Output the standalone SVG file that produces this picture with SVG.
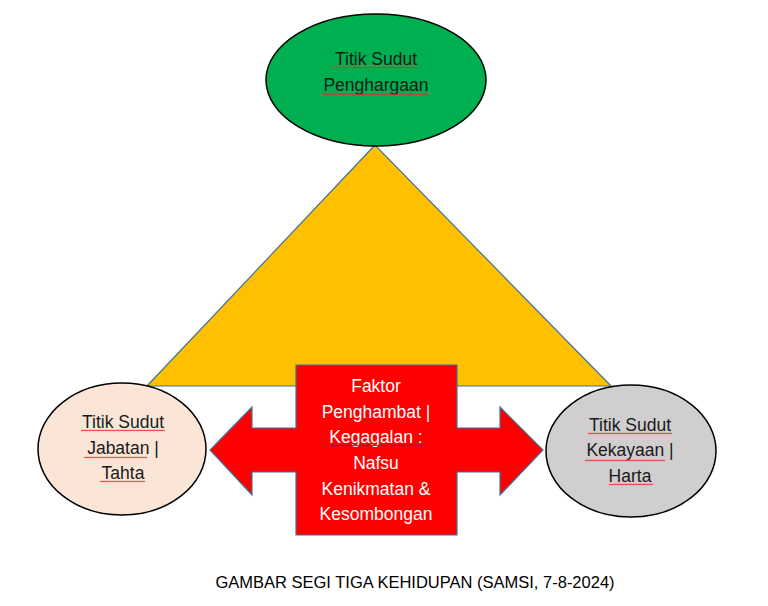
<svg xmlns="http://www.w3.org/2000/svg" width="768" height="606" viewBox="0 0 768 606">
<defs>
<pattern id="squig" width="4" height="3" patternUnits="userSpaceOnUse">
<path d="M0,2.2 L1,0.8 L2,2.2 L3,0.8 L4,2.2" fill="none" stroke="#E03030" stroke-width="0.8"/>
</pattern>
<pattern id="squigb" width="4" height="3" patternUnits="userSpaceOnUse">
<path d="M0,2.2 L1,0.8 L2,2.2 L3,0.8 L4,2.2" fill="none" stroke="#3030C0" stroke-width="0.8"/>
</pattern>
</defs>
<style>
text{font-family:"Liberation Sans","Open Sans",sans-serif;font-size:17.5px;text-anchor:middle;}
.dark{fill:#1a1a1a;}
.white{fill:#ffffff;}
.ell{stroke:#000;stroke-width:1.5;}
.blue{stroke:#41719C;stroke-width:1.2;}
.sq{fill:url(#squig);}
</style>
<rect width="768" height="606" fill="#fff"/>
<g id="triangle">
<polygon points="375,145 147,386 611,386" fill="#FFC000" class="blue"/>
</g>
<g id="node-top">
<ellipse cx="376" cy="80" rx="110" ry="66" fill="#00B050" class="ell"/>
<text x="376" y="65" class="dark">Titik Sudut</text>
<text x="376" y="91" class="dark">Penghargaan</text>
<rect x="333" y="66" width="84" height="3" class="sq"/>
<rect x="323" y="93" width="104" height="3" class="sq"/>
</g>
<g id="node-left">
<ellipse cx="122" cy="449" rx="84" ry="66" fill="#FBE5D6" class="ell"/>
<text x="123" y="428" class="dark">Titik Sudut</text>
<text x="123" y="454" class="dark">Jabatan |</text>
<text x="123" y="479" class="dark">Tahta</text>
<rect x="81" y="429" width="84" height="3" class="sq"/>
<rect x="84" y="456" width="63" height="3" class="sq"/>
<rect x="100" y="480" width="45" height="3" class="sq"/>
</g>
<g id="node-right">
<ellipse cx="631" cy="451" rx="85" ry="66" fill="#D0CECE" class="ell"/>
<text x="630" y="431" class="dark">Titik Sudut</text>
<text x="630" y="456" class="dark">Kekayaan |</text>
<text x="630" y="482" class="dark">Harta</text>
<rect x="588" y="432" width="84" height="3" class="sq"/>
<rect x="585" y="459" width="80" height="3" class="sq"/>
<rect x="609" y="483" width="44" height="3" class="sq"/>
</g>
<g id="connectors">
<path d="M296,365 L457,365 L457,428 L500,428 L500,407 L543,450 L500,495 L500,472 L457,472 L457,535 L296,535 L296,472 L252,472 L252,495 L210,450 L252,407 L252,428 L296,428 Z" fill="#FF0000" class="blue"/>
</g>
<g id="node-center">
<text x="376" y="392" class="white">Faktor</text>
<text x="376" y="418" class="white">Penghambat |</text>
<text x="376" y="443" class="white">Kegagalan :</text>
<text x="376" y="469" class="white">Nafsu</text>
<text x="376" y="495" class="white">Kenikmatan &amp;</text>
<text x="376" y="520" class="white">Kesombongan</text>
<rect x="331" y="444" width="92" height="3" fill="url(#squigb)"/>
</g>
<g id="caption">
<text x="415" y="588" style="fill:#000;font-size:16.5px">GAMBAR SEGI TIGA KEHIDUPAN (SAMSI, 7-8-2024)</text>
</g>
</svg>
